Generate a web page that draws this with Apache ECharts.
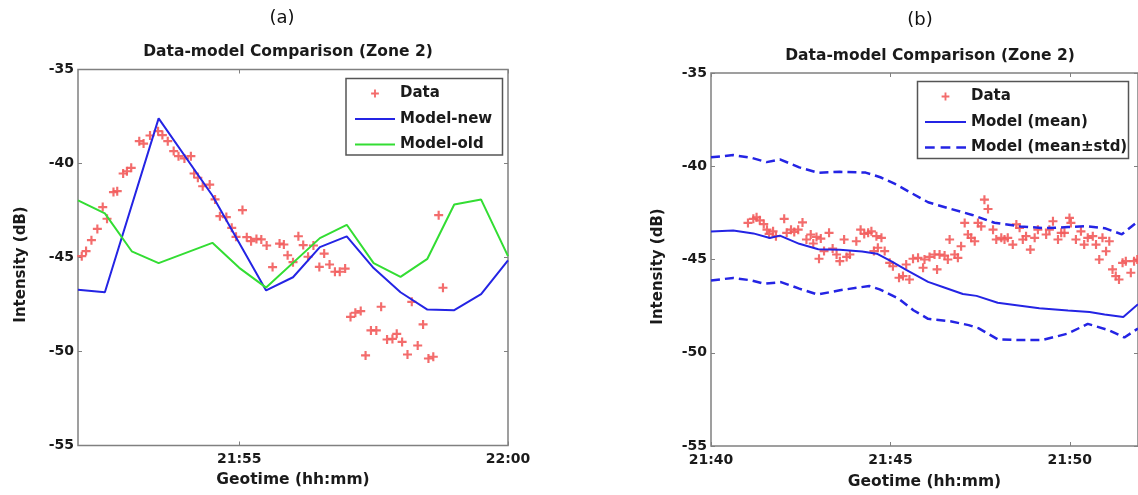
<!DOCTYPE html>
<html>
<head>
<meta charset="utf-8">
<script src="https://cdn.jsdelivr.net/npm/echarts@6/dist/echarts.min.js"></script>
<style>
  html, body { margin: 0; padding: 0; background: #fff; }
  #chart { width: 1138px; height: 495px; }
</style>
</head>
<body>
<div id="chart"></div>
<script>
// time values are minutes after 21:00

// panel (a)
const dataTimeA = [52.07, 52.15, 52.25, 52.36, 52.46, 52.54, 52.66, 52.73, 52.84, 52.91, 52.99, 53.14, 53.22, 53.34, 53.49, 53.57, 53.67, 53.78, 53.87, 53.98,
  54.10, 54.16, 54.23, 54.32, 54.45, 54.55, 54.64, 54.76, 54.86, 54.94, 55.06, 55.14, 55.22, 55.32, 55.41, 55.51, 55.62, 55.75, 55.83, 55.90,
  56.00, 56.10, 56.19, 56.28, 56.38, 56.49, 56.58, 56.68, 56.78, 56.87, 56.97, 57.07, 57.16, 57.26, 57.35, 57.45, 57.55, 57.64, 57.75, 57.85,
  57.93, 58.03, 58.13, 58.21, 58.32, 58.42, 58.52, 58.61, 58.71, 58.79];
const dataA = [-44.93, -44.66, -44.08, -43.48, -42.32, -42.94, -41.52, -41.47, -40.53, -40.41, -40.23, -38.81, -38.94, -38.51, -38.28, -38.49, -38.81, -39.34, -39.61, -39.73,
  -39.61, -40.53, -40.76, -41.21, -41.12, -41.91, -42.80, -42.85, -43.42, -43.90, -42.48, -43.92, -44.13, -44.01, -44.04, -44.36, -45.51, -44.26, -44.31, -44.88,
  -45.25, -43.87, -44.34, -44.96, -44.36, -45.50, -44.79, -45.37, -45.76, -45.76, -45.59, -48.16, -47.94, -47.85, -50.21, -48.88, -48.88, -47.62, -49.36, -49.33,
  -49.06, -49.49, -50.16, -47.36, -49.68, -48.56, -50.37, -50.28, -42.75, -46.61];

const newTimeA = [52, 52.5, 53.5, 54.5, 55.5, 56, 56.5, 57, 57.5, 58, 58.5, 59, 59.5, 60];
const newA = [-46.72, -46.85, -37.6, -41.7, -46.75, -46.05, -44.45, -43.88, -45.56, -46.85, -47.77, -47.8, -46.95, -45.15];

const oldTimeA = [52, 52.5, 53, 53.5, 54.5, 55, 55.5, 56.5, 57, 57.5, 58, 58.5, 59, 59.5, 60];
const oldA = [-41.96, -42.65, -44.67, -45.3, -44.22, -45.55, -46.6, -43.97, -43.26, -45.3, -46.03, -45.07, -42.18, -41.92, -44.93];

// panel (b)
const dataTimeB = [41.03, 41.18, 41.27, 41.36, 41.47, 41.56, 41.62, 41.73, 41.81, 42.04, 42.11, 42.23, 42.32, 42.43, 42.55, 42.66, 42.78, 42.85, 42.94, 43.01,
  43.06, 43.15, 43.29, 43.39, 43.50, 43.59, 43.71, 43.78, 43.87, 44.05, 44.17, 44.27, 44.38, 44.47, 44.54, 44.61, 44.65, 44.75, 44.84, 44.98,
  45.07, 45.24, 45.35, 45.44, 45.53, 45.63, 45.77, 45.91, 45.95, 46.09, 46.23, 46.30, 46.37, 46.51, 46.60, 46.65, 46.79, 46.88, 46.97, 47.07,
  47.16, 47.25, 47.35, 47.44, 47.53, 47.62, 47.72, 47.86, 47.95, 48.09, 48.18, 48.27, 48.41, 48.51, 48.60, 48.69, 48.78, 48.90, 49.02, 49.11,
  49.34, 49.43, 49.53, 49.67, 49.76, 49.85, 49.99, 50.03, 50.17, 50.31, 50.40, 50.50, 50.64, 50.73, 50.82, 50.91, 51.01, 51.10, 51.19, 51.28,
  51.37, 51.47, 51.56, 51.70, 51.79, 51.88];
const dataB = [-43.04, -42.82, -42.74, -42.90, -43.10, -43.40, -43.63, -43.49, -43.75, -42.82, -43.57, -43.40, -43.52, -43.40, -43.01, -43.93, -43.66, -44.14, -43.79, -44.96,
  -43.88, -44.55, -43.57, -44.41, -44.73, -45.09, -43.93, -44.86, -44.73, -44.02, -43.40, -43.63, -43.57, -43.49, -44.55, -43.75, -44.37, -43.84, -44.55, -45.18,
  -45.36, -45.98, -45.89, -45.27, -46.07, -44.96, -44.91, -45.44, -45.00, -44.86, -44.73, -45.53, -44.73, -44.79, -45.00, -43.93, -44.73, -44.91, -44.29, -43.04,
  -43.66, -43.84, -44.02, -43.04, -43.22, -41.79, -42.29, -43.40, -43.93, -43.84, -43.93, -43.84, -44.20, -43.12, -43.30, -43.93, -43.75, -44.47, -43.84, -43.40,
  -43.66, -43.40, -42.95, -43.93, -43.57, -43.57, -42.77, -43.04, -43.93, -43.49, -44.20, -43.84, -43.75, -44.20, -45.00, -43.84, -44.56, -44.02, -45.53, -45.89,
  -46.07, -45.18, -45.09, -45.71, -45.09, -45.00];

const meanTimeB = [40, 40.62, 41.18, 41.64, 41.92, 42.46, 42.99, 43.59, 44.21, 44.62, 45.03, 45.44, 46.05, 46.5, 47.02, 47.4, 47.99, 48.62, 49.15, 49.95, 50.55, 50.97, 51.49, 51.9];
const meanB = [-43.5, -43.44, -43.6, -43.85, -43.72, -44.16, -44.45, -44.48, -44.57, -44.69, -45.1, -45.55, -46.2, -46.5, -46.85, -46.95, -47.32, -47.48, -47.62, -47.74, -47.82, -47.95, -48.08, -47.4];

const upTimeB = [40, 40.62, 41.13, 41.55, 41.92, 42.46, 42.99, 43.59, 44.31, 44.72, 45.13, 45.54, 46.05, 46.67, 47.28, 47.9, 48.62, 49.33, 49.95, 50.46, 50.97, 51.45, 51.9];
const upB = [-39.52, -39.4, -39.55, -39.78, -39.63, -40.06, -40.35, -40.3, -40.34, -40.59, -40.95, -41.39, -41.93, -42.28, -42.61, -43.03, -43.23, -43.32, -43.26, -43.21, -43.32, -43.65, -42.95];

const lowTimeB = [40, 40.62, 41.13, 41.49, 41.95, 42.46, 42.97, 43.59, 44.41, 44.7, 45.23, 45.64, 46.05, 46.67, 47.18, 47.45, 47.99, 48.62, 49.25, 49.95, 50.5, 51.1, 51.52, 51.9];
const lowB = [-46.12, -45.99, -46.12, -46.3, -46.21, -46.56, -46.88, -46.65, -46.42, -46.6, -47.1, -47.72, -48.18, -48.31, -48.52, -48.68, -49.28, -49.32, -49.31, -48.97, -48.45, -48.8, -49.18, -48.7];

const yTicks = [-55, -50, -45, -40, -35];
const xTicksA = [55, 60];
const xTicksB = [40, 45, 50];

function zip(xs, ys) {
  return xs.map((x, i) => [x, ys[i]]);
}

function fmtTime(v) {
  const h = 21 + Math.floor(v / 60);
  const m = Math.round(v % 60);
  return h + ':' + String(m).padStart(2, '0');
}

const FONT = 'DejaVu Sans';
const frameColor = '#808080';
const blue = '#2424e4';
const green = '#33dd33';
const red = '#f25c5c';
const plus = 'path://M3.8,0H6.2V3.8H10V6.2H6.2V10H3.8V6.2H0V3.8H3.8Z';
// legend icons: cross with an invisible margin, solid and dashed strokes
const plusIcon = 'path://M-4,-4h0.01v0.01h-0.01zM14,14h0.01v0.01h-0.01zM3.8,0H6.2V3.8H10V6.2H6.2V10H3.8V6.2H0V3.8H3.8Z';
const solidIcon = 'path://M0,0H40V2H0Z';
const dashIcon = 'path://M0,0H9V2.5H0ZM14.5,0H23.5V2.5H14.5ZM29,0H38V2.5H29Z';

const tickStyle = { color: '#1a1a1a', fontFamily: FONT, fontWeight: 'bold', fontSize: 14 };
const textStyle = { color: '#1a1a1a', fontFamily: FONT, fontWeight: 'bold', fontSize: 15.5 };
const legendText = { color: '#1a1a1a', fontFamily: FONT, fontWeight: 'bold', fontSize: 15 };

function xAxisPair(gridIndex, min, max, ticks, nameGap) {
  return [{
    type: 'value', gridIndex: gridIndex, position: 'bottom', min: min, max: max,
    name: 'Geotime (hh:mm)', nameLocation: 'middle', nameGap: nameGap, nameTextStyle: textStyle,
    axisLine: { show: false }, splitLine: { show: false },
    axisTick: { inside: true, length: 4, customValues: ticks, lineStyle: { color: frameColor } },
    axisLabel: Object.assign({ margin: 7, customValues: ticks, formatter: fmtTime }, tickStyle)
  }, {
    type: 'value', gridIndex: gridIndex, position: 'top', min: min, max: max,
    axisLine: { show: false }, splitLine: { show: false }, axisLabel: { show: false },
    axisTick: { inside: true, length: 4, customValues: ticks, lineStyle: { color: frameColor } }
  }];
}

function yAxisPair(gridIndex, nameGap) {
  return [{
    type: 'value', gridIndex: gridIndex, position: 'left', min: -55, max: -35, interval: 5,
    name: 'Intensity (dB)', nameLocation: 'middle', nameGap: nameGap,
    nameTextStyle: Object.assign({ padding: [0, 14, 0, 0] }, textStyle, { fontSize: 15 }),
    axisLine: { show: false }, splitLine: { show: false },
    axisTick: { inside: true, length: 4, lineStyle: { color: frameColor } },
    axisLabel: Object.assign({ margin: 4, customValues: yTicks }, tickStyle)
  }, {
    type: 'value', gridIndex: gridIndex, position: 'right', min: -55, max: -35, interval: 5,
    axisLine: { show: false }, splitLine: { show: false }, axisLabel: { show: false },
    axisTick: { inside: true, length: 4, lineStyle: { color: frameColor } }
  }];
}

const chart = echarts.init(document.getElementById('chart'));

const option = {
  animation: false,
  backgroundColor: '#fff',
  title: [
    { text: '(a)', left: 282, top: 9, textAlign: 'center', padding: 0,
      textStyle: { fontFamily: FONT, fontSize: 18, fontWeight: 'normal', color: '#111' } },
    { text: 'Data-model Comparison (Zone 2)', left: 288, top: 44, textAlign: 'center', padding: 0, textStyle: textStyle },
    { text: '(b)', left: 920, top: 11, textAlign: 'center', padding: 0,
      textStyle: { fontFamily: FONT, fontSize: 18, fontWeight: 'normal', color: '#111' } },
    { text: 'Data-model Comparison (Zone 2)', left: 930, top: 48, textAlign: 'center', padding: 0, textStyle: textStyle }
  ],
  grid: [
    { left: 78, top: 69.5, width: 430, height: 376, show: true, borderColor: frameColor, borderWidth: 1.5, backgroundColor: '#fff' },
    { left: 711, top: 73, width: 427.5, height: 374, show: true, borderColor: frameColor, borderWidth: 1.5, backgroundColor: '#fff' }
  ],
  xAxis: xAxisPair(0, 52, 60, xTicksA, 26).concat(xAxisPair(1, 40, 51.9, xTicksB, 28)),
  yAxis: yAxisPair(0, 49).concat(yAxisPair(1, 45)),
  graphic: [
    { type: 'rect', z: 3, shape: { x: 346, y: 78.5, width: 156.5, height: 76.5 },
      style: { fill: '#fff', stroke: '#555', lineWidth: 1.5 } },
    { type: 'rect', z: 3, shape: { x: 917.5, y: 81.5, width: 211, height: 77 },
      style: { fill: '#fff', stroke: '#555', lineWidth: 1.5 } }
  ],
  legend: [
    { left: 355, top: 86, orient: 'vertical', itemWidth: 40, itemHeight: 14, itemGap: 10.5, padding: 0, z: 5,
      textStyle: legendText,
      data: [{ name: 'Data', icon: plusIcon }, { name: 'Model-new', icon: solidIcon }, { name: 'Model-old', icon: solidIcon }] },
    { left: 925, top: 89, orient: 'vertical', itemWidth: 41, itemHeight: 14, itemGap: 10.5, padding: 0, z: 5,
      textStyle: legendText,
      data: [{ name: 'Data ', icon: plusIcon }, { name: 'Model (mean)', icon: solidIcon }, { name: 'Model (mean\u00b1std)', icon: dashIcon }] }
  ],
  series: [
    { name: 'Data', type: 'scatter', xAxisIndex: 0, yAxisIndex: 0, symbol: plus, symbolSize: 9,
      itemStyle: { color: red, opacity: 0.9 }, data: zip(dataTimeA, dataA) },
    { name: 'Model-new', type: 'line', xAxisIndex: 0, yAxisIndex: 0, symbol: 'none', showSymbol: false,
      lineStyle: { color: blue, width: 2 }, itemStyle: { color: blue }, data: zip(newTimeA, newA) },
    { name: 'Model-old', type: 'line', xAxisIndex: 0, yAxisIndex: 0, symbol: 'none', showSymbol: false,
      lineStyle: { color: green, width: 2 }, itemStyle: { color: green }, data: zip(oldTimeA, oldA) },

    { name: 'Data ', type: 'scatter', xAxisIndex: 2, yAxisIndex: 2, symbol: plus, symbolSize: 9,
      itemStyle: { color: red, opacity: 0.9 }, data: zip(dataTimeB, dataB) },
    { name: 'Model (mean)', type: 'line', xAxisIndex: 2, yAxisIndex: 2, symbol: 'none', showSymbol: false,
      lineStyle: { color: blue, width: 2 }, itemStyle: { color: blue }, data: zip(meanTimeB, meanB) },
    { name: 'Model (mean\u00b1std)', type: 'line', xAxisIndex: 2, yAxisIndex: 2, symbol: 'none', showSymbol: false,
      lineStyle: { color: blue, width: 2.5, type: [9, 5] }, itemStyle: { color: blue }, data: zip(upTimeB, upB) },
    { name: 'Model (mean\u00b1std)', type: 'line', xAxisIndex: 2, yAxisIndex: 2, symbol: 'none', showSymbol: false,
      lineStyle: { color: blue, width: 2.5, type: [9, 5] }, itemStyle: { color: blue }, data: zip(lowTimeB, lowB) }
  ]
};

chart.setOption(option);
</script>
</body>
</html>
